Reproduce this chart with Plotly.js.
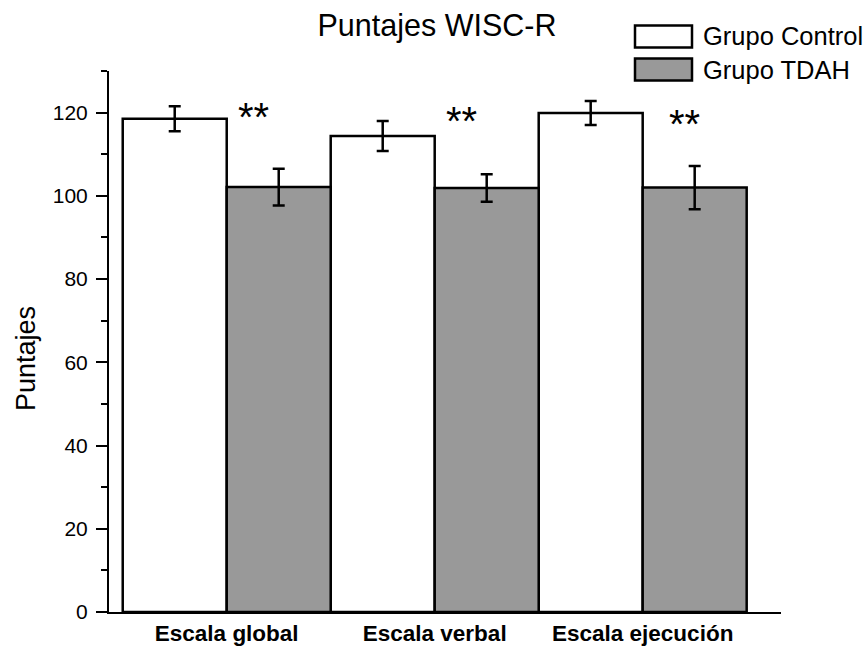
<!DOCTYPE html>
<html>
<head>
<meta charset="utf-8">
<script src="https://cdn.plot.ly/plotly-3.0.1.min.js"></script>
<style>html,body{margin:0;padding:0;background:#fff;}#chart{width:867px;height:646px;}</style>
</head>
<body>
<div id="chart"></div>
<script>
// ---- data ----
const categories = ['Escala global', 'Escala verbal', 'Escala ejecución'];
const seriesNames = ['Grupo Control', 'Grupo TDAH'];
const controlValues = [118.5, 114.4, 119.9];
const controlErrors = [3.0, 3.6, 2.9];
const tdahValues = [102.1, 101.9, 102.0];
const tdahErrors = [4.4, 3.3, 5.2];
const significance = ['**', '**', '**'];
const yTickValues = [0, 20, 40, 60, 80, 100, 120];

// ---- layout helpers (pixel -> paper) ----
const W = 867, H = 646;
const M = {l: 109, r: 86, t: 71, b: 34};
const pw = W - M.l - M.r, ph = H - M.t - M.b;
const px = x => (x - M.l) / pw;
const py = y => (H - M.b - y) / ph;

const FONT = 'Liberation Sans, Arial, sans-serif';
const fillColors = ['#ffffff', '#999999'];

function barTrace(name, vals, errs, color) {
  return {
    type: 'bar', name: name, x: categories, y: vals,
    marker: {color: color, line: {color: '#000', width: 2.5}},
    error_y: {type: 'data', array: errs, visible: true, color: '#000', thickness: 2.5, width: 6},
    showlegend: false, hoverinfo: 'skip'
  };
}

const traces = [
  barTrace(seriesNames[0], controlValues, controlErrors, fillColors[0]),
  barTrace(seriesNames[1], tdahValues, tdahErrors, fillColors[1])
];

// significance markers placed right of each group's centre, above the TDAH bar
const starOffsets = [0.128, 0.13, 0.2];
const starY = [118.9, 118.1, 117.3];
const annotations = significance.map((s, i) => ({
  x: i + starOffsets[i], y: starY[i], xref: 'x', yref: 'y',
  text: s, showarrow: false, xanchor: 'center', yanchor: 'middle',
  font: {family: FONT, size: 40, color: '#000'}
}));

// y axis title
annotations.push({
  x: px(26), y: py(359), xref: 'paper', yref: 'paper',
  text: 'Puntajes', textangle: -90, showarrow: false,
  xanchor: 'center', yanchor: 'middle',
  font: {family: FONT, size: 27, color: '#000'}
});

// custom legend
const shapes = [];
const legendRows = [36.5, 69.5];
seriesNames.forEach((n, i) => {
  const cy = legendRows[i];
  shapes.push({
    type: 'rect', xref: 'paper', yref: 'paper',
    x0: px(635), x1: px(692), y0: py(cy - 11), y1: py(cy + 11),
    fillcolor: fillColors[i], line: {color: '#000', width: 2.5}
  });
  annotations.push({
    x: px(701), y: py(cy), xref: 'paper', yref: 'paper',
    text: n, showarrow: false, xanchor: 'left', yanchor: 'middle',
    font: {family: FONT, size: 25.5, color: '#000'}
  });
});

const layout = {
  width: W, height: H,
  margin: M,
  paper_bgcolor: '#fff', plot_bgcolor: '#fff',
  font: {family: FONT, color: '#000'},
  title: {text: 'Puntajes WISC-R', x: 437 / W, xref: 'container', xanchor: 'center',
          y: 1 - 25 / H, yref: 'container', yanchor: 'middle',
          font: {family: FONT, size: 30.5, color: '#000'}},
  barmode: 'group', bargap: 0, bargroupgap: 0,
  xaxis: {
    type: 'category', range: [-0.566, 2.665],
    showline: true, linecolor: '#000', linewidth: 2,
    ticks: '', showgrid: false, zeroline: false,
    tickfont: {family: FONT, size: 22.5, color: '#000', weight: 'bold'},
    ticklabelstandoff: 0
  },
  yaxis: {
    range: [0, 130], tickvals: yTickValues,
    showline: true, linecolor: '#000', linewidth: 2,
    ticks: 'outside', ticklen: 11, tickwidth: 2, tickcolor: '#000',
    minor: {dtick: 10, tick0: 0, ticks: 'outside', ticklen: 6, tickwidth: 2, tickcolor: '#000', showgrid: false},
    showgrid: false, zeroline: false,
    tickfont: {family: FONT, size: 21, color: '#000'},
    ticklabelstandoff: 4
  },
  annotations: annotations,
  shapes: shapes
};

Plotly.newPlot('chart', traces, layout, {displayModeBar: false, staticPlot: true});
</script>
</body>
</html>
